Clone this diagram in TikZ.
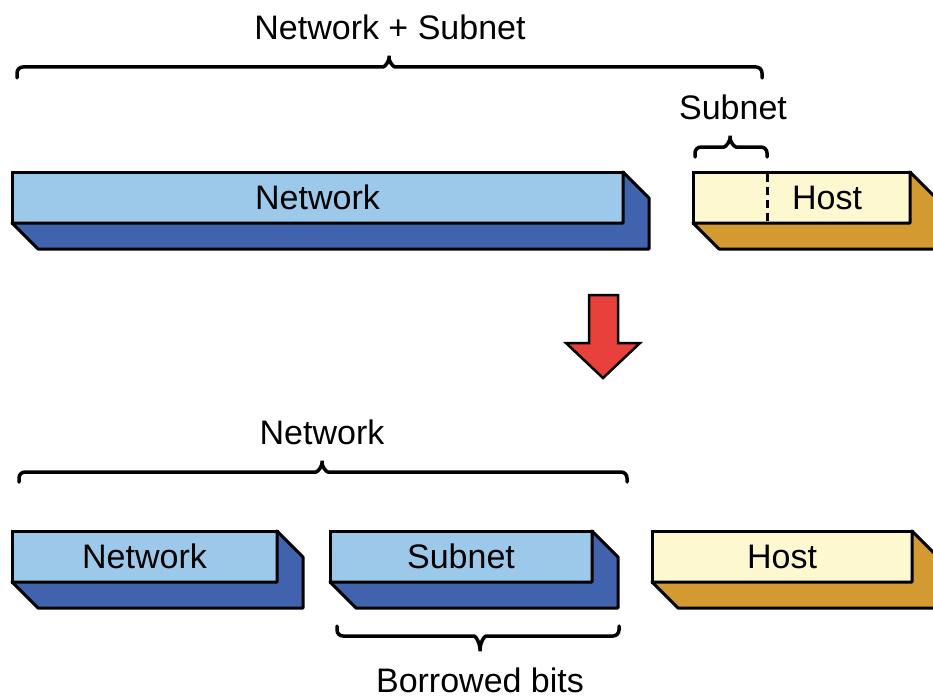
\documentclass[tikz,border=0pt]{standalone}
\usepackage{fontspec}
\setmainfont{Liberation Sans}
\usetikzlibrary{calc}
\definecolor{lblue}{HTML}{9CC8EA}
\definecolor{dblue}{HTML}{4163AE}
\definecolor{cream}{HTML}{FDF8CF}
\definecolor{gold}{HTML}{D39A32}
\definecolor{arrowred}{HTML}{E8413B}
\newcommand\bigtext{\fontsize{34}{40}\selectfont}
% slab behind a face node: name, colour
\newcommand\brickslab[2]{%
  \filldraw[fill=#2, draw=black, line width=3pt, line join=round]
    (#1.north east) -- ++(26,26) -- ($(#1.south east)+(26,26)$)
    -- ($(#1.south west)+(26,26)$) -- (#1.south west) -- (#1.south east) -- cycle;}
% horizontal brace: x1, x2, xm, y, end offset, tip offset
\newcommand\hbrace[6]{%
  \draw[bracestyle] (#1,#4+#5) -- (#1,#4) -- (#3-12,#4)
    .. controls (#3-4,#4) and (#3,#4-0.4*#6) .. (#3,#4-#6)
    .. controls (#3,#4-0.4*#6) and (#3+4,#4) .. (#3+12,#4)
    -- (#2,#4) -- (#2,#4+#5);}
\begin{document}
\begin{tikzpicture}[x=1pt,y=-1pt,
  face/.style={draw=black, line width=3pt, minimum height=51pt, inner sep=0pt, outer sep=0pt, font=\bigtext},
  netface/.style={face, fill=lblue},
  hostface/.style={face, fill=cream},
  lbl/.style={font=\bigtext, inner sep=0pt, anchor=base},
  bracestyle/.style={line width=3.5pt, rounded corners=6pt, line cap=round},
  ]
\useasboundingbox (0,0) rectangle (933,698);
\clip (0,0) rectangle (933,698);

% top row
\node[netface, minimum width=611pt] (netT) at (317.5,197.5) {Network};
\brickslab{netT}{dblue}
\node[hostface, minimum width=217pt] (hostT) at (801.5,197.5) {};
\brickslab{hostT}{gold}
\draw[line width=3pt, dash pattern=on 8pt off 5pt] ($(hostT.north west)+(74,1.5)$) -- ($(hostT.south west)+(74,-1.5)$);
\node[lbl, anchor=center] (hostTtext) at (827,198) {Host};

\node[lbl] (lblNS) at (390,40) {Network + Subnet};
\hbrace{17}{762}{389}{67}{11}{15}
\node[lbl] (lblSub) at (733,119) {Subnet};
\hbrace{695}{767}{730}{147}{10}{15}

% arrow
\filldraw[fill=arrowred, draw=black, line width=2.5pt, line join=miter]
  (589,295) -- (618,295) -- (618,343) -- (640,343) -- (603,378) -- (566,343) -- (589,343) -- cycle;

% bottom row
\node[lbl] (lblNet) at (322,444) {Network};
\hbrace{19}{627}{322}{472}{10}{15}

\node[netface, minimum width=265pt] (netB) at (144.5,556.5) {Network};
\brickslab{netB}{dblue}
\node[netface, minimum width=262pt] (subB) at (461,556.5) {Subnet};
\brickslab{subB}{dblue}
\node[hostface, minimum width=260pt] (hostB) at (782,556.5) {Host};
\brickslab{hostB}{gold}

\hbrace{337}{619}{480}{636}{-10}{-19}
\node[lbl] (lblBor) at (480,692) {Borrowed bits};
\end{tikzpicture}
\end{document}
